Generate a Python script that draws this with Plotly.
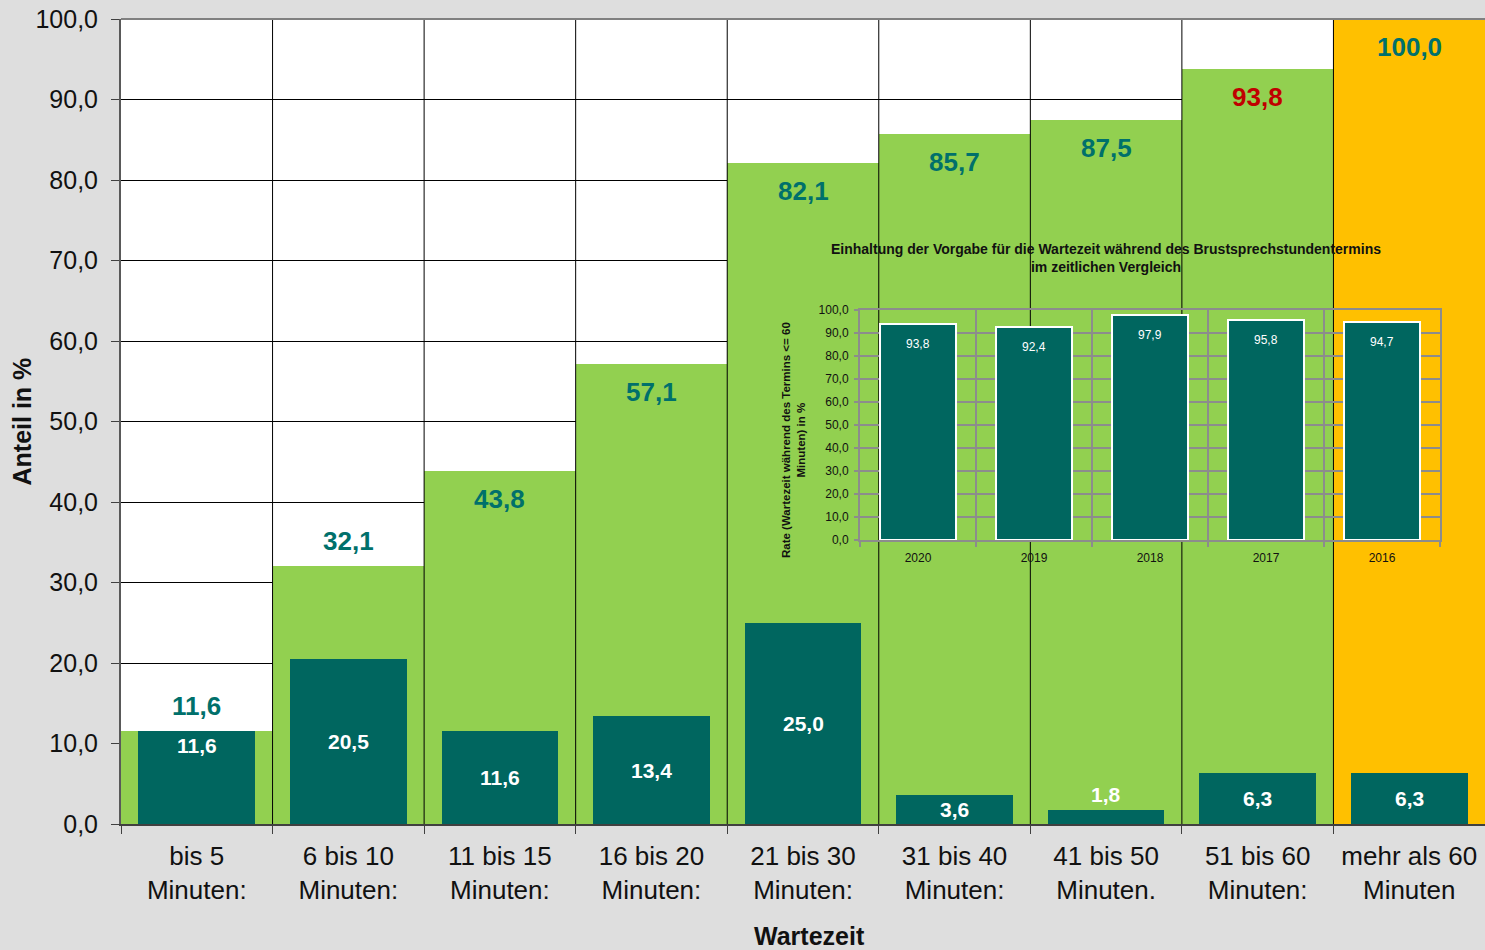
import plotly.graph_objects as go

categories = ["bis 5<br>Minuten:", "6 bis 10<br>Minuten:", "11 bis 15<br>Minuten:",
              "16 bis 20<br>Minuten:", "21 bis 30<br>Minuten:", "31 bis 40<br>Minuten:",
              "41 bis 50<br>Minuten.", "51 bis 60<br>Minuten:", "mehr als 60<br>Minuten"]
share = [11.6, 20.5, 11.6, 13.4, 25.0, 3.6, 1.8, 6.3, 6.3]
cumulative = [11.6, 32.1, 43.8, 57.1, 82.1, 85.7, 87.5, 93.8, 100.0]
y_ticks = [0, 10, 20, 30, 40, 50, 60, 70, 80, 90, 100]

years = ["2020", "2019", "2018", "2017", "2016"]
rate = [93.8, 92.4, 97.9, 95.8, 94.7]

GREEN = "#92D050"
ORANGE = "#FFC000"
TEAL = "#00665F"
TEAL_TXT = "#00706B"
RED = "#C00000"
GRID2 = "#8C8C8C"
FONT = "Liberation Sans, Arial, sans-serif"


def fmt(v):
    return f"{v:.1f}".replace(".", ",")


idx = list(range(len(categories)))
yidx = list(range(len(years)))
bounds_x, bounds_y = [], []
for i in idx[:-1]:
    bounds_x += [i + 0.5, i + 0.5, None]
    bounds_y += [0, 100, None]

fig = go.Figure()
fig.add_trace(go.Bar(x=idx, y=cumulative, width=1,
                     marker=dict(color=[GREEN] * (len(idx) - 1) + [ORANGE], line=dict(width=0)),
                     hoverinfo="skip", showlegend=False))
fig.add_trace(go.Bar(x=idx, y=share, width=0.77,
                     marker=dict(color=TEAL, line=dict(width=0)),
                     hoverinfo="skip", showlegend=False))
fig.add_trace(go.Scatter(x=bounds_x, y=bounds_y, mode="lines",
                         line=dict(color="#000000", width=1),
                         hoverinfo="skip", showlegend=False))

fig.add_trace(go.Bar(x=yidx, y=rate, width=0.66, xaxis="x2", yaxis="y2",
                     marker=dict(color=TEAL, line=dict(color="white", width=2)),
                     hoverinfo="skip", showlegend=False))

ann = []
for i, v in enumerate(cumulative):
    inside = v >= 40
    ann.append(dict(x=i, y=v, xref="x", yref="y", text=f"<b>{fmt(v)}</b>", showarrow=False,
                    yanchor="top" if inside else "bottom", yshift=-11 if inside else 8,
                    font=dict(size=26, color=RED if i == 7 else TEAL_TXT, family=FONT)))
for i, v in enumerate(share):
    if i == 0:
        y, ys = v, -15
    elif v < 3:
        y, ys = v, 15
    else:
        y, ys = v / 2, 0
    ann.append(dict(x=i, y=y, xref="x", yref="y", text=f"<b>{fmt(v)}</b>", showarrow=False,
                    yanchor="middle", yshift=ys,
                    font=dict(size=21, color="white", family=FONT)))
for i, v in enumerate(rate):
    ann.append(dict(x=i, y=v, xref="x2", yref="y2", text=fmt(v), showarrow=False,
                    yanchor="middle", yshift=-20,
                    font=dict(size=12, color="white", family=FONT)))

ann.append(dict(x=-0.0726, y=0.5, xref="paper", yref="paper", text="<b>Anteil in %</b>",
                textangle=-90, showarrow=False, xanchor="center", yanchor="middle",
                font=dict(size=25, color="#111111", family=FONT)))
ann.append(dict(x=0.505, y=-0.1395, xref="paper", yref="paper", text="<b>Wartezeit</b>",
                showarrow=False, xanchor="center", yanchor="middle",
                font=dict(size=25, color="#111111", family=FONT)))
ann.append(dict(x=0.7221, y=0.7037, xref="paper", yref="paper",
                text="<b>Einhaltung der Vorgabe für die Wartezeit während des Brustsprechstundentermins<br>im zeitlichen Vergleich</b>",
                showarrow=False, xanchor="center", yanchor="middle",
                font=dict(size=14, color="#111111", family=FONT)))
ann.append(dict(x=0.4927, y=0.477, xref="paper", yref="paper",
                text="<b>Rate (Wartezeit während des Termins <= 60<br>Minuten) in %</b>",
                textangle=-90, showarrow=False, xanchor="center", yanchor="middle",
                font=dict(size=11.5, color="#111111", family=FONT)))

fig.update_layout(
    width=1485, height=950,
    margin=dict(l=121, r=0, t=19, b=126),
    paper_bgcolor="#DEDEDE", plot_bgcolor="rgba(0,0,0,0)",
    barmode="overlay", bargap=0,
    separators=",.",
    font=dict(family=FONT, color="#111111"),
    showlegend=False,
    annotations=ann,
    shapes=[
        dict(type="rect", xref="x domain", yref="y domain", x0=0, x1=1, y0=0, y1=1,
             fillcolor="white", line=dict(width=0), layer="below"),
        dict(type="line", xref="paper", yref="paper", x0=0, x1=1, y0=1, y1=1,
             line=dict(color="#808080", width=2), layer="above"),
    ],
    xaxis=dict(range=[-0.5, len(categories) - 0.5], tickmode="array", tickvals=idx,
               ticktext=categories, ticks="outside", ticklen=8, tickcolor="rgba(0,0,0,0)",
               tickfont=dict(size=26, color="#111111"),
               minor=dict(tickmode="array", tickvals=[i - 0.5 for i in idx] + [len(idx) - 0.5],
                          ticks="outside", ticklen=8, tickcolor="#404040", tickwidth=1,
                          showgrid=False),
               showgrid=False, zeroline=False, showline=True, linecolor="#404040", linewidth=2,
               fixedrange=True),
    yaxis=dict(range=[0, 100], tickmode="array", tickvals=y_ticks, tickformat=".1f",
               ticks="outside", ticklen=8, tickcolor="#404040", ticklabelstandoff=8,
               tickfont=dict(size=25, color="#111111"),
               showgrid=True, gridcolor="#000000", gridwidth=1, zeroline=False,
               showline=True, linecolor="#595959", linewidth=2, fixedrange=True),
    xaxis2=dict(domain=[0.5418, 0.967], anchor="y2", range=[-0.5, len(years) - 0.5],
                tickmode="array", tickvals=yidx, ticktext=years, ticks="",
                ticklabelstandoff=6,
                showgrid=False, zeroline=False,
                minor=dict(tickmode="array", tickvals=[i - 0.5 for i in yidx] + [len(yidx) - 0.5],
                           ticks="outside", ticklen=5, tickcolor=GRID2, tickwidth=2,
                           showgrid=True, gridcolor=GRID2, gridwidth=2),
                tickfont=dict(size=12, color="#111111"),
                showline=True, mirror=True, linecolor=GRID2, linewidth=2, fixedrange=True),
    yaxis2=dict(domain=[0.3528, 0.6385], anchor="x2", range=[0, 100], tickmode="array",
                tickvals=y_ticks, tickformat=".1f", ticklabelstandoff=3,
                showgrid=True, gridcolor=GRID2, gridwidth=2, zeroline=False,
                ticks="outside", ticklen=4, tickcolor=GRID2, tickwidth=2,
                tickfont=dict(size=12, color="#111111"),
                showline=True, mirror=True, linecolor=GRID2, linewidth=2, fixedrange=True),
)

fig.write_html("out.html")
